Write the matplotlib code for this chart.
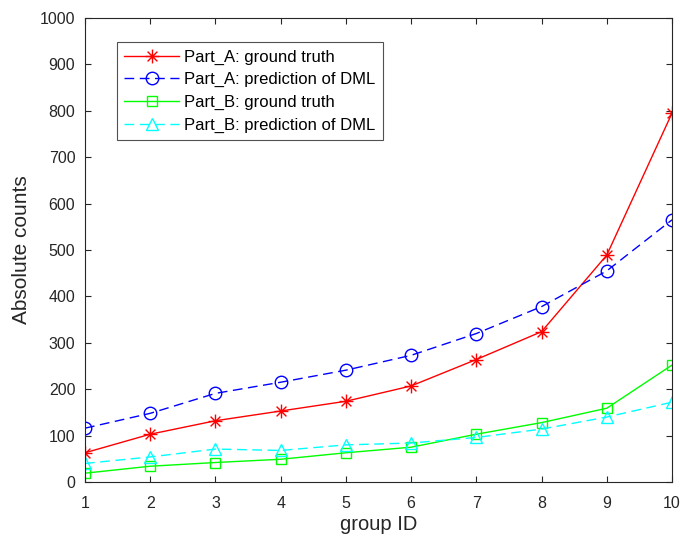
import numpy as np
import matplotlib.pyplot as plt
from matplotlib.path import Path

plt.rcParams['font.family'] = ['Liberation Sans', 'DejaVu Sans']

group_id = [1, 2, 3, 4, 5, 6, 7, 8, 9, 10]
a_truth = [63, 103, 132, 153, 174, 207, 264, 324, 489, 795]
a_pred = [116, 148, 191, 215, 241, 273, 320, 378, 455, 565]
b_truth = [19, 34, 42, 49, 63, 75, 103, 128, 159, 252]
b_pred = [40, 54, 71, 68, 80, 84, 96, 114, 140, 172]

labels = ["Part_A: ground truth", "Part_A: prediction of DML",
          "Part_B: ground truth", "Part_B: prediction of DML"]

# matlab style asterisk (+ and x together)
d = 0.7071
asterisk = Path([(-1, 0), (1, 0), (0, -1), (0, 1), (-d, -d), (d, d), (-d, d), (d, -d)],
                [Path.MOVETO, Path.LINETO] * 4)

fig = plt.figure(figsize=(6.92, 5.4), dpi=100)
ax = fig.add_axes([85 / 692, 1 - 482 / 540, 587 / 692, 464 / 540])

ax.plot(group_id, a_truth, color='red', lw=1, marker=asterisk, ms=10, mew=1,
        label=labels[0])
ax.plot(group_id, a_pred, color='blue', lw=1, ls=(0, (7, 4)), marker='o', ms=9,
        mfc='none', mew=1, label=labels[1])
ax.plot(group_id, b_truth, color='#00ff00', lw=1, marker='s', ms=7,
        mfc='none', mew=1, label=labels[2])
ax.plot(group_id, b_pred, color='cyan', lw=1, ls=(0, (7, 4)), marker='^', ms=9,
        mfc='none', mew=1, label=labels[3])

ax.set_xlim(1, 10)
ax.set_ylim(0, 1000)
ax.set_xticks(group_id)
ax.set_yticks(np.arange(0, 1001, 100))
ax.tick_params(direction='in', top=True, right=True, labelsize=11.5,
               colors='#262626', length=4)
ax.tick_params(axis='x', pad=10)
ax.tick_params(axis='y', pad=7)
for s in ax.spines.values():
    s.set_color('#262626')
    s.set_linewidth(0.8)
ax.set_xlabel("group ID", fontsize=14.5, color='#262626', labelpad=3)
ax.set_ylabel("Absolute counts", fontsize=15, color='#262626', labelpad=6)

leg = ax.legend(loc='upper left', bbox_to_anchor=(0.0545, 0.948), borderaxespad=0,
                fontsize=12, handlelength=3.3, frameon=True, fancybox=False,
                edgecolor='#262626', borderpad=0.45, labelspacing=0.45,
                handletextpad=0.3)
leg.get_frame().set_linewidth(0.8)

fig.savefig("out.png", dpi=100)
